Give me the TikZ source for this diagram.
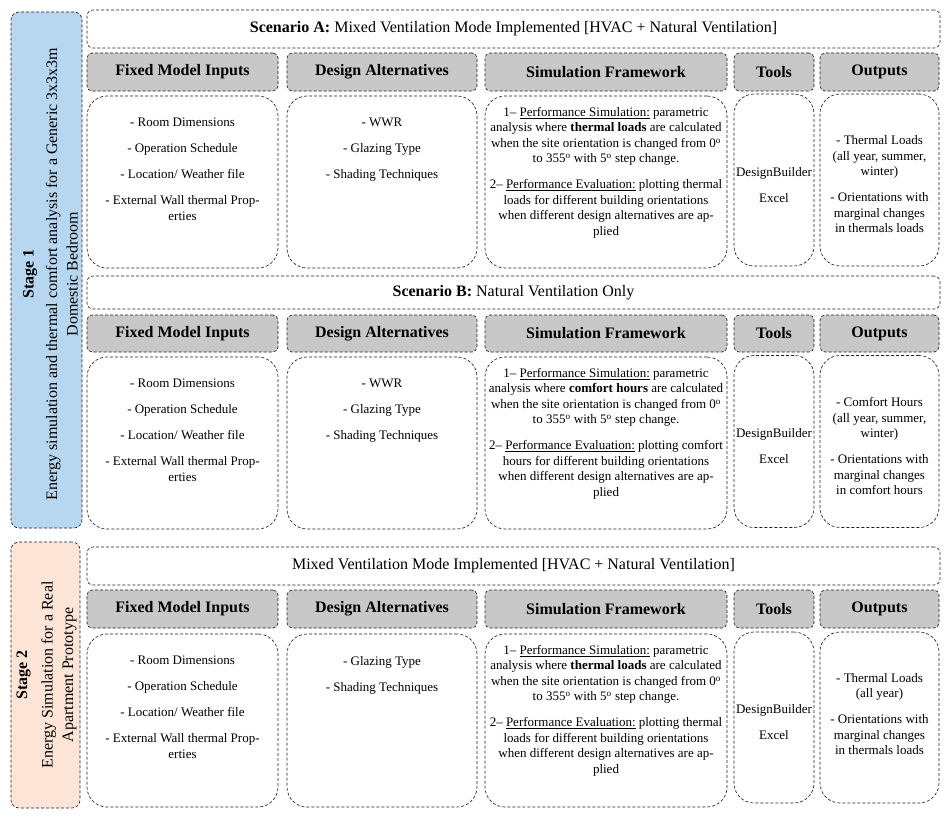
\documentclass[tikz,border=0pt]{standalone}
\usepackage{fontspec}
\setmainfont{Liberation Serif}
\usepackage{xcolor}
\usepackage{tikz}
\usetikzlibrary{positioning}
\definecolor{stageblue}{RGB}{183,215,240}
\definecolor{stagepeach}{RGB}{252,228,214}
\definecolor{hdrgray}{RGB}{200,200,200}
\tikzset{
  dsh/.style={draw=black!88, line width=0.65pt, dash pattern=on 3pt off 2pt},
  stagebox/.style={rectangle, dsh, rounded corners=8pt, inner sep=0pt},
  stagetxt/.style={align=center, rotate=90, font=\fontsize{16}{20.5}\selectfont, inner sep=0pt},
  bar/.style={rectangle, dsh, rounded corners=6pt, inner sep=0pt, minimum width=853pt,
              font=\fontsize{16}{19}\selectfont},
  hdr/.style={rectangle, dsh, fill=hdrgray, rounded corners=5pt, inner sep=0pt,
              font=\fontsize{16}{19}\selectfont\bfseries},
  cell/.style={rectangle, dsh, rounded corners=20pt, inner sep=0pt},
  txt/.style={align=center, font=\fontsize{13}{15.5}\selectfont, inner sep=0pt},
  fmiw/.style={minimum width=191pt},
  daw/.style={minimum width=190pt},
  sfw/.style={minimum width=242pt},
  toolw/.style={minimum width=80pt},
  outw/.style={minimum width=119pt},
}
\newcommand{\dg}{\textsuperscript{o}}
\newcommand{\gap}{\\[10.5pt]}

\begin{document}
\begin{tikzpicture}[x=1pt, y=-1pt]
\useasboundingbox (0,0) rectangle (945,816);
% stages
\node[stagebox, fill=stageblue, minimum width=71pt, minimum height=516pt] (st1) at (46.5,270) {};
\node[stagetxt] (st1t) at ([xshift=4pt,yshift=-4pt]st1.center) {\textbf{Stage 1}\\[3pt]Energy simulation and thermal comfort analysis for a Generic 3x3x3m\\Domestic Bedroom};
\node[stagebox, fill=stagepeach, minimum width=69pt, minimum height=266pt] (st2) at (45.5,675) {};
\node[stagetxt] (st2t) at ([xshift=1pt]st2.center) {\textbf{Stage 2}\\[5pt]Energy Simulation for a Real\\Apartment Prototype};

% scenario A
\node[bar, minimum height=38pt] (barA) at (513.5,29) {\textbf{Scenario A:} Mixed Ventilation Mode Implemented [HVAC + Natural Ventilation]};
\node[hdr, fmiw, minimum height=38pt] (fmiA) at (182.5,72) {Fixed Model Inputs};
\node[hdr, daw, minimum height=38pt] (daA) at (382,72) {Design Alternatives};
\node[hdr, sfw, minimum height=38pt] (sfA) at (606,72) {Simulation Framework};
\node[hdr, toolw, minimum height=38pt] (toolA) at (774,72) {Tools};
\node[hdr, outw, minimum height=38pt] (outA) at (879.5,72) {Outputs};
\node[cell, fmiw, minimum height=172pt] (fmiAc) at (182.5,182) {};
\node[cell, daw, minimum height=172pt] (daAc) at (382,182) {};
\node[cell, sfw, minimum height=172pt] (sfAc) at (606,182) {};
\node[cell, toolw, minimum height=172pt] (toolAc) at (774,180) {};
\node[cell, outw, minimum height=172pt] (outAc) at (879.5,180) {};
\node[txt, anchor=north] (fmiAt) at (182.5,118) {- Room Dimensions\gap - Operation Schedule\gap - Location/ Weather file\gap - External Wall thermal Prop-\\erties};
\node[txt, anchor=north] (daAt) at (382,118) {- WWR\gap - Glazing Type\gap - Shading Techniques};
\node[txt, anchor=north] (sfAt) at (606,107) {1-- \underline{Performance Simulation:} parametric\\analysis where \textbf{thermal loads} are calculated\\when the site orientation is changed from 0\dg\\to 355\dg{} with 5\dg{} step change.\gap 2-- \underline{Performance Evaluation:} plotting thermal\\loads for different building orientations\\when different design alternatives are ap-\\plied};
\node[txt] (toolAt) at (774,185) {DesignBuilder\gap Excel};
\node[txt] (outAt) at (879.5,184.5) {- Thermal Loads\\(all year, summer,\\winter)\gap - Orientations with\\marginal changes\\in thermals loads};

% scenario B
\node[bar, minimum height=33pt] (barB) at (513.5,292.5) {\textbf{Scenario B:} Natural Ventilation Only};
\node[hdr, fmiw, minimum height=37pt] (fmiB) at (182.5,333.5) {Fixed Model Inputs};
\node[hdr, daw, minimum height=37pt] (daB) at (382,333.5) {Design Alternatives};
\node[hdr, sfw, minimum height=37pt] (sfB) at (606,333.5) {Simulation Framework};
\node[hdr, toolw, minimum height=37pt] (toolB) at (774,333.5) {Tools};
\node[hdr, outw, minimum height=37pt] (outB) at (879.5,333.5) {Outputs};
\node[cell, fmiw, minimum height=172pt] (fmiBc) at (182.5,443) {};
\node[cell, daw, minimum height=172pt] (daBc) at (382,443) {};
\node[cell, sfw, minimum height=172pt] (sfBc) at (606,443) {};
\node[cell, toolw, minimum height=172pt] (toolBc) at (774,441.5) {};
\node[cell, outw, minimum height=172pt] (outBc) at (879.5,441.5) {};
\node[txt, anchor=north] (fmiBt) at (182.5,379) {- Room Dimensions\gap - Operation Schedule\gap - Location/ Weather file\gap - External Wall thermal Prop-\\erties};
\node[txt, anchor=north] (daBt) at (382,379) {- WWR\gap - Glazing Type\gap - Shading Techniques};
\node[txt, anchor=north] (sfBt) at (606,368) {1-- \underline{Performance Simulation:} parametric\\analysis where \textbf{comfort hours} are calculated\\when the site orientation is changed from 0\dg\\to 355\dg{} with 5\dg{} step change.\gap 2-- \underline{Performance Evaluation:} plotting comfort\\hours for different building orientations\\when different design alternatives are ap-\\plied};
\node[txt] (toolBt) at (774,446) {DesignBuilder\gap Excel};
\node[txt] (outBt) at (879.5,446) {- Comfort Hours\\(all year, summer,\\winter)\gap - Orientations with\\marginal changes\\in comfort hours};

% stage 2
\node[bar, minimum height=38pt] (barC) at (513.5,566) {Mixed Ventilation Mode Implemented [HVAC + Natural Ventilation]};
\node[hdr, fmiw, minimum height=38pt] (fmiC) at (182.5,609) {Fixed Model Inputs};
\node[hdr, daw, minimum height=38pt] (daC) at (382,609) {Design Alternatives};
\node[hdr, sfw, minimum height=38pt] (sfC) at (606,609) {Simulation Framework};
\node[hdr, toolw, minimum height=38pt] (toolC) at (774,609) {Tools};
\node[hdr, outw, minimum height=38pt] (outC) at (879.5,609) {Outputs};
\node[cell, fmiw, minimum height=173pt] (fmiCc) at (182.5,720.5) {};
\node[cell, daw, minimum height=173pt] (daCc) at (382,720.5) {};
\node[cell, sfw, minimum height=173pt] (sfCc) at (606,720.5) {};
\node[cell, toolw, minimum height=171pt] (toolCc) at (774,717.5) {};
\node[cell, outw, minimum height=171pt] (outCc) at (879.5,717.5) {};
\node[txt, anchor=north] (fmiCt) at (182.5,656) {- Room Dimensions\gap - Operation Schedule\gap - Location/ Weather file\gap - External Wall thermal Prop-\\erties};
\node[txt, anchor=north] (daCt) at (382,656) {- Glazing Type\gap - Shading Techniques};
\node[txt, anchor=north] (sfCt) at (606,645) {1-- \underline{Performance Simulation:} parametric\\analysis where \textbf{thermal loads} are calculated\\when the site orientation is changed from 0\dg\\to 355\dg{} with 5\dg{} step change.\gap 2-- \underline{Performance Evaluation:} plotting thermal\\loads for different building orientations\\when different design alternatives are ap-\\plied};
\node[txt] (toolCt) at (774,722) {DesignBuilder\gap Excel};
\node[txt] (outCt) at (879.5,714) {- Thermal Loads\\(all year)\gap - Orientations with\\marginal changes\\in thermals loads};
\end{tikzpicture}
\end{document}
